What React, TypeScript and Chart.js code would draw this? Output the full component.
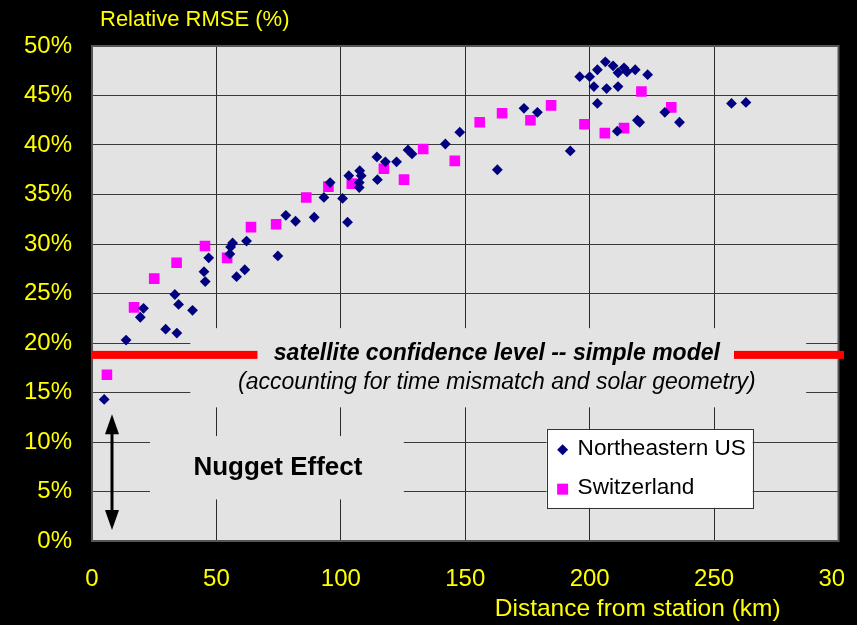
import React, { useEffect, useRef } from "react";
import { Chart, registerables } from "chart.js";

Chart.register(...registerables);

// ---- data (distance km, relative RMSE %) ----
const neDistance = [
  4.9, 13.7, 19.4, 20.7, 29.6, 34.1, 33.3, 34.8, 40.4, 45.0, 45.5, 46.9, 55.7, 56.5, 55.4, 58.1,
  61.4, 62.1, 74.7, 77.9, 81.8, 89.3, 93.2, 95.7, 100.7, 102.7, 103.2, 107.6, 108.2, 107.4, 107.4,
  114.5, 114.7, 117.9, 122.4, 127.0, 128.6, 142.0, 147.8, 162.9, 173.6, 179.0, 192.2, 196.0, 200.0,
  203.1, 201.7, 203.1, 206.3, 209.4, 211.4, 213.8, 215.0, 218.3, 223.3, 206.8, 211.4, 211.1, 219.2,
  220.1, 230.2, 236.1, 257.0, 262.8,
];
const neRmse = [
  14.3, 20.3, 22.6, 23.5, 21.4, 21.0, 24.9, 23.9, 23.3, 27.2, 26.2, 28.6, 29.7, 30.1, 29.0, 26.7,
  27.4, 30.3, 28.8, 32.9, 32.3, 32.7, 34.7, 36.2, 34.6, 32.2, 36.9, 37.4, 36.9, 36.2, 35.7,
  38.8, 36.5, 38.3, 38.3, 39.5, 39.1, 40.1, 41.3, 37.5, 43.7, 43.3, 39.4, 46.9, 46.9,
  47.6, 45.9, 44.2, 48.4, 48.0, 47.3, 47.8, 47.4, 47.6, 47.1, 45.7, 45.9, 41.4, 42.5,
  42.3, 43.3, 42.3, 44.2, 44.3,
];
const chDistance = [
  6.0, 16.9, 25.0, 34.0, 45.4, 54.3, 63.9, 74.0, 86.1, 95.0, 104.4, 117.3, 125.4, 133.1, 145.8,
  155.8, 164.8, 176.2, 184.5, 197.9, 206.1, 213.8, 220.8, 232.8,
];
const chRmse = [
  16.8, 23.6, 26.5, 28.1, 29.8, 28.6, 31.7, 32.0, 34.7, 35.8, 36.1, 37.6, 36.5, 39.6, 38.4,
  42.3, 43.2, 42.5, 44.0, 42.1, 41.2, 41.7, 45.4, 43.8,
];

const seriesLabels = ["Northeastern US", "Switzerland"];
const seriesColors = ["#000080", "#ff00ff"];
const xTickValues = [0, 50, 100, 150, 200, 250, 300];
const yTickValues = [0, 5, 10, 15, 20, 25, 30, 35, 40, 45, 50];

const yTitle = "Relative RMSE (%)";
const xTitle = "Distance from station (km)";
const confidenceLevel = 18.8;
const confidenceText = "satellite confidence level -- simple model";
const confidenceNote = "(accounting for time mismatch and solar geometry)";
const nuggetText = "Nugget Effect";
const nuggetArrow = { x: 8, from: 1.1, to: 12.8 };

const FONT = '"Liberation Sans", Arial, Helvetica, sans-serif';
const PLOT_BG = "#e3e3e3";
const YELLOW = "#ffff00";

const overlayPlugin = {
  id: "overlay",
  beforeDraw(chart: any) {
    const { ctx, width, height, chartArea: a } = chart;
    ctx.save();
    ctx.fillStyle = "#000";
    ctx.fillRect(0, 0, width, height);
    ctx.fillStyle = PLOT_BG;
    ctx.fillRect(a.left, a.top, a.right - a.left, a.bottom - a.top);
    ctx.restore();
  },
  beforeDatasetsDraw(chart: any) {
    const { ctx, chartArea: a, scales } = chart;
    const x = scales.x;
    const y = scales.y;
    ctx.save();
    // plot frame
    ctx.strokeStyle = "#555";
    ctx.lineWidth = 2;
    ctx.strokeRect(a.left, a.top, a.right - a.left, a.bottom - a.top);

    // mask behind confidence text
    ctx.fillStyle = PLOT_BG;
    let bx1 = x.getPixelForValue(39.5), bx2 = x.getPixelForValue(287);
    let by1 = y.getPixelForValue(21.5), by2 = y.getPixelForValue(13.5);
    ctx.fillRect(bx1, by1, bx2 - bx1, by2 - by1);

    // red confidence line
    const ry = y.getPixelForValue(confidenceLevel);
    ctx.fillStyle = "#ff0000";
    const l1 = x.getPixelForValue(0), l2 = x.getPixelForValue(66.5);
    const r1 = x.getPixelForValue(258), r2 = x.getPixelForValue(302.5);
    ctx.fillRect(l1, ry - 4, l2 - l1, 8);
    ctx.fillRect(r1, ry - 4, r2 - r1, 8);

    ctx.fillStyle = "#000";
    ctx.textAlign = "center";
    ctx.textBaseline = "middle";
    const cx = x.getPixelForValue(162.7);
    ctx.font = `italic bold 23px ${FONT}`;
    ctx.fillText(confidenceText, cx, ry - 1);
    ctx.font = `italic 23px ${FONT}`;
    ctx.fillText(confidenceNote, cx, y.getPixelForValue(16.0));

    // nugget mask & text
    ctx.fillStyle = PLOT_BG;
    bx1 = x.getPixelForValue(23.3); bx2 = x.getPixelForValue(125.3);
    by1 = y.getPixelForValue(10.6); by2 = y.getPixelForValue(4.2);
    ctx.fillRect(bx1, by1, bx2 - bx1, by2 - by1);
    ctx.fillStyle = "#000";
    ctx.font = `bold 26px ${FONT}`;
    ctx.fillText(nuggetText, x.getPixelForValue(74.7), y.getPixelForValue(7.4));

    // double arrow
    const ax = Math.round(x.getPixelForValue(nuggetArrow.x));
    const aTop = y.getPixelForValue(nuggetArrow.to);
    const aBot = y.getPixelForValue(nuggetArrow.from);
    const hw = 7, hh = 20;
    ctx.strokeStyle = "#000";
    ctx.lineWidth = 3;
    ctx.beginPath();
    ctx.moveTo(ax, aTop + hh - 2);
    ctx.lineTo(ax, aBot - hh + 2);
    ctx.stroke();
    ctx.beginPath();
    ctx.moveTo(ax, aTop);
    ctx.lineTo(ax - hw, aTop + hh);
    ctx.lineTo(ax + hw, aTop + hh);
    ctx.closePath();
    ctx.fill();
    ctx.beginPath();
    ctx.moveTo(ax, aBot);
    ctx.lineTo(ax - hw, aBot - hh);
    ctx.lineTo(ax + hw, aBot - hh);
    ctx.closePath();
    ctx.fill();

    // legend
    const lx1 = x.getPixelForValue(182.7), lx2 = x.getPixelForValue(265.5);
    const ly1 = y.getPixelForValue(11.3), ly2 = y.getPixelForValue(3.35);
    ctx.fillStyle = "#ffffff";
    ctx.fillRect(lx1, ly1, lx2 - lx1, ly2 - ly1);
    ctx.strokeStyle = "#333";
    ctx.lineWidth = 1;
    ctx.strokeRect(Math.round(lx1) + 0.5, Math.round(ly1) + 0.5, Math.round(lx2 - lx1), Math.round(ly2 - ly1));
    ctx.textAlign = "left";
    ctx.font = `22.6px ${FONT}`;
    const rowH = (ly2 - ly1) / 2;
    chart.data.datasets.forEach((ds: any, i: number) => {
      const cy = ly1 + rowH * (i + 0.5) + 1;
      const mx = lx1 + 16;
      ctx.fillStyle = ds.backgroundColor;
      if (ds.pointStyle === "rectRot") {
        ctx.beginPath();
        ctx.moveTo(mx, cy - 5.5);
        ctx.lineTo(mx + 5.5, cy);
        ctx.lineTo(mx, cy + 5.5);
        ctx.lineTo(mx - 5.5, cy);
        ctx.closePath();
        ctx.fill();
      } else {
        ctx.fillRect(mx - 5.5, cy - 5.5, 11, 11);
      }
      ctx.fillStyle = "#000";
      ctx.fillText(ds.label, lx1 + 31, cy - 1);
    });
    ctx.restore();
  },
  afterDraw(chart: any) {
    const { ctx, chartArea: a, height } = chart;
    ctx.save();
    // the original picture is cut off at its right side
    ctx.fillStyle = "#000";
    ctx.fillRect(844, 0, 20, height);
    ctx.fillStyle = YELLOW;
    ctx.textBaseline = "middle";
    ctx.textAlign = "left";
    ctx.font = `22px ${FONT}`;
    ctx.fillText(yTitle, a.left + 8, 20);
    ctx.textAlign = "center";
    ctx.font = `24.5px ${FONT}`;
    ctx.fillText(xTitle, a.left + (a.right - a.left) * 0.731, 609);
    ctx.restore();
  },
};

export default function App() {
  const canvasRef = useRef<HTMLCanvasElement | null>(null);

  useEffect(() => {
    if (!canvasRef.current) return;
    const chart = new Chart(canvasRef.current, {
      type: "scatter",
      data: {
        datasets: [
          {
            label: seriesLabels[0],
            data: neDistance.map((d, i) => ({ x: d, y: neRmse[i] })),
            backgroundColor: seriesColors[0],
            borderColor: seriesColors[0],
            borderWidth: 0,
            pointStyle: "rectRot",
            pointRadius: 5.4,
            pointHoverRadius: 5.4,
          },
          {
            label: seriesLabels[1],
            data: chDistance.map((d, i) => ({ x: d, y: chRmse[i] })),
            backgroundColor: seriesColors[1],
            borderColor: seriesColors[1],
            borderWidth: 0,
            pointStyle: "rect",
            pointRadius: 7.5,
            pointHoverRadius: 7.5,
          },
        ],
      },
      options: {
        animation: false,
        responsive: true,
        maintainAspectRatio: false,
        layout: { padding: { left: 0, right: 18.5, top: 46, bottom: 0 } },
        plugins: { legend: { display: false }, tooltip: { enabled: false }, title: { display: false } },
        scales: {
          x: {
            type: "linear",
            min: 0,
            max: 300,
            afterBuildTicks: (s: any) => {
              s.ticks = xTickValues.map((v) => ({ value: v }));
            },
            afterFit: (s: any) => {
              s.height = 84;
              s.paddingLeft = 0;
              s.paddingRight = 0;
            },
            ticks: {
              color: YELLOW,
              font: { family: FONT, size: 24 },
              padding: 24,
              maxRotation: 0,
              autoSkip: false,
            },
            grid: { color: "#2a2a2a", lineWidth: 1, drawTicks: false },
            border: { display: true, color: "#555", width: 2 },
          },
          y: {
            type: "linear",
            min: 0,
            max: 50,
            afterBuildTicks: (s: any) => {
              s.ticks = yTickValues.map((v) => ({ value: v }));
            },
            afterFit: (s: any) => {
              s.width = 92;
              s.paddingTop = 0;
              s.paddingBottom = 0;
            },
            ticks: {
              color: YELLOW,
              font: { family: FONT, size: 24 },
              padding: 20,
              autoSkip: false,
              callback: (v: any) => `${v}%`,
            },
            grid: { color: "#3a3a3a", lineWidth: 1, drawTicks: false },
            border: { display: true, color: "#555", width: 2 },
          },
        },
      },
      plugins: [overlayPlugin],
    });
    return () => chart.destroy();
  }, []);

  return (
    <div style={{ position: "fixed", left: 0, top: 0, width: 857, height: 625, background: "#000" }}>
      <canvas ref={canvasRef} />
    </div>
  );
}
